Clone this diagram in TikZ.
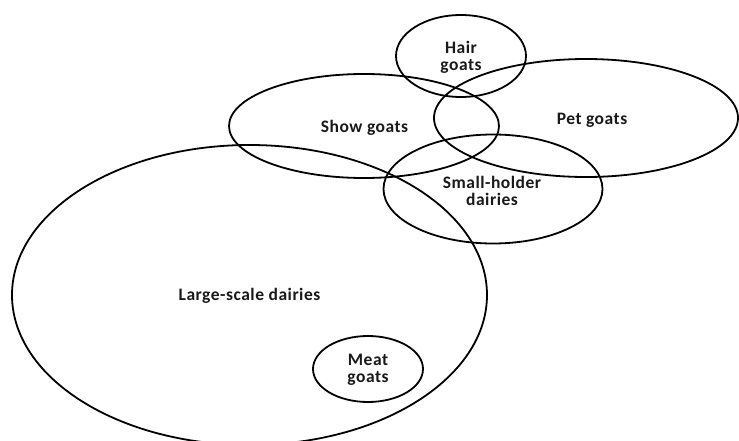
\documentclass[tikz,border=0pt]{standalone}
\usepackage{fontspec}
\setmainfont{Carlito}[LetterSpace=3]
\usetikzlibrary{shapes.geometric}
\begin{document}
\begin{tikzpicture}[x=1pt,y=-1pt,
  set/.style={draw=black,line width=1.8pt,ellipse,inner sep=0pt},
  lbl/.style={font=\fontsize{17.5}{17}\selectfont\bfseries,align=center,inner sep=0pt,text=black!90}]
  \useasboundingbox (0,0) rectangle (739,441);
  % the overlapping sets
  \node[set,minimum width=475pt,minimum height=300pt] (large) at (249.5,295) {};
  \node[set,minimum width=110pt,minimum height=66pt] (meat) at (368,369) {};
  \node[set,minimum width=270pt,minimum height=104pt] (show) at (364,126) {};
  \node[set,minimum width=130pt,minimum height=82pt] (hair) at (461,56) {};
  \node[set,minimum width=304pt,minimum height=118pt] (pet) at (586,118) {};
  \node[set,minimum width=219pt,minimum height=109pt] (small) at (493,189) {};
  % labels
  \node[lbl] (tlarge) at (249.5,296) {Large-scale dairies};
  \node[lbl] (tmeat) at (368,370) {Meat\\goats};
  \node[lbl] (tshow) at (364.5,128) {Show goats};
  \node[lbl] (thair) at (461,57) {Hair\\goats};
  \node[lbl] (tpet) at (592,120) {Pet goats};
  \node[lbl] (tsmall) at (492,191) {Small-holder\\dairies};
\end{tikzpicture}
\end{document}
